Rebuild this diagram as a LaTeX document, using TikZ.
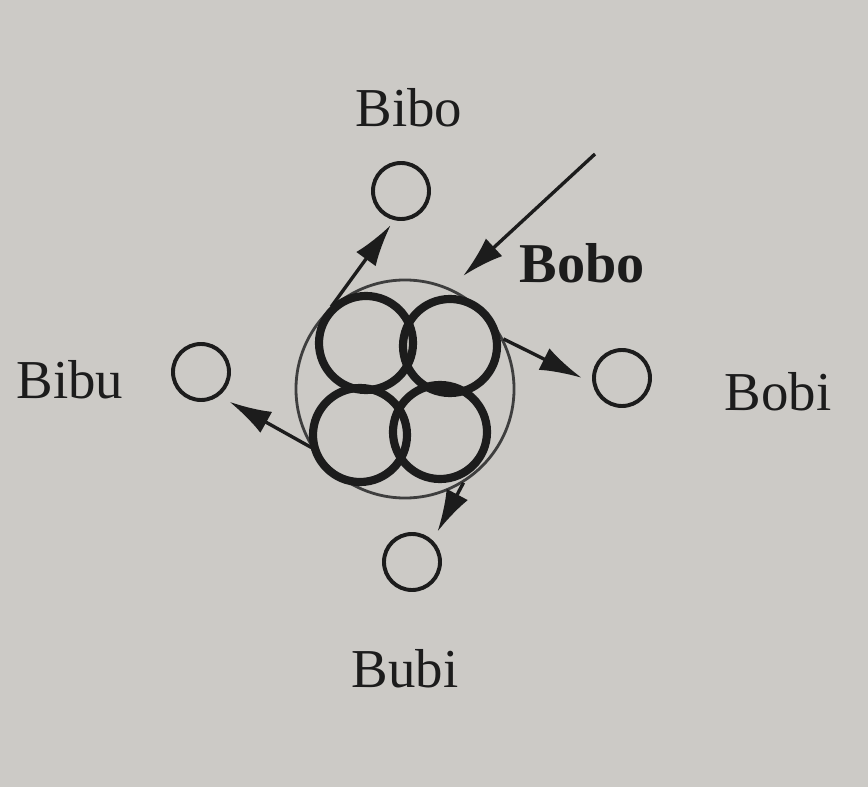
\documentclass[tikz,border=0pt]{standalone}
\usepackage{fontspec}
\setmainfont{Liberation Serif}
\usetikzlibrary{arrows.meta}
\definecolor{paper}{RGB}{204,202,198}
\definecolor{ink}{RGB}{28,28,28}

\begin{document}
\begin{tikzpicture}[x=0.025cm, y=-0.025cm, font=\fontsize{39}{46}\selectfont, text=ink,
    spot/.style={circle, draw=ink, line width=2.8pt, minimum size=1.4cm, inner sep=0pt},
    loop/.style={circle, draw=ink, line width=5.8pt, minimum size=2.35cm, inner sep=0pt},
    push/.style={-{Latex[length=1.05cm, width=0.6cm]}, draw=ink, line width=2.4pt}]
    % page
    \useasboundingbox (0,0) rectangle (868,787);
    \fill[paper] (0,0) rectangle (868,787);

    % outer ring
    \node[circle, draw=ink!85, line width=2pt, minimum size=5.45cm, inner sep=0pt] (ring) at (405,389) {};

    % four loops
    \node[loop] (looptl) at (366,343) {};
    \node[loop] (looptr) at (450,346) {};
    \node[loop] (loopbl) at (360,435) {};
    \node[loop] (loopbr) at (440,432) {};

    % small circles
    \node[spot] (bibo) at (401,191) {};
    \node[spot] (bibu) at (201,372) {};
    \node[spot] (bobi) at (622,378) {};
    \node[spot] (bubi) at (412,562) {};

    % names
    \node[anchor=base] (bibolabel) at (409,127) {Bibo};
    \node[anchor=base] (bibulabel) at (70,398) {Bibu};
    \node[anchor=base] (bobilabel) at (778,410) {Bobi};
    \node[anchor=base] (bubilabel) at (405,687) {Bubi};
    \node[anchor=base, font=\fontsize{40}{46}\selectfont\bfseries] (bobolabel) at (582,283) {Bobo};

    % arrows
    \draw[push, shorten >=0.15cm] (ring.132) -- (bibo.257);
    \draw[push, shorten >=0.3cm] (ring.27) -- (bobi.190);
    \draw[push, shorten >=0.3cm] (ring.212) -- (bibu.-53);
    \draw[push, shorten >=0.25cm] (ring.-58) -- (bubi.46);
    \coordinate (bobotail) at (595,154);
    \draw[push, shorten >=0.45cm] (bobotail) -- (ring.66);
\end{tikzpicture}
\end{document}
